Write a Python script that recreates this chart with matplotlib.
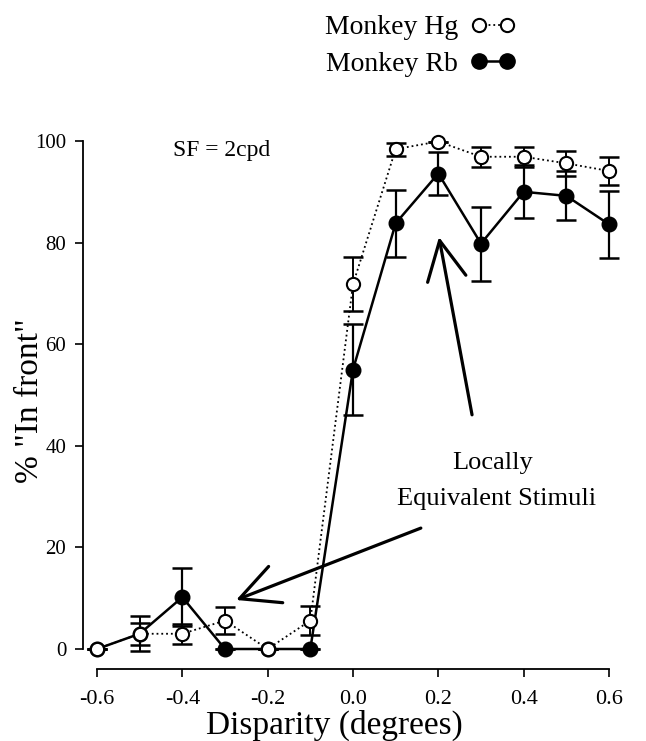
import matplotlib
matplotlib.use("Agg")
import matplotlib.pyplot as plt
from matplotlib.lines import Line2D

plt.rcParams['font.family'] = ['Liberation Serif', 'DejaVu Serif']

disparity = [-0.6, -0.5, -0.4, -0.3, -0.2, -0.1, 0.0, 0.1, 0.2, 0.3, 0.4, 0.5, 0.6]
hg_values = [0.0, 3.0, 3.0, 5.6, 0.0, 5.6, 71.8, 98.4, 99.9, 96.9, 96.9, 95.6, 94.1]
hg_err = [0.0, 3.4, 2.0, 2.7, 0.0, 2.8, 5.3, 1.3, 0.0, 2.0, 2.0, 2.4, 2.8]
rb_values = [0.0, 3.0, 10.2, 0.0, 0.0, 0.0, 55.0, 83.8, 93.6, 79.8, 90.0, 89.2, 83.6]
rb_err = [0.0, 2.2, 5.7, 0.0, 0.0, 0.0, 9.0, 6.6, 4.3, 7.3, 5.2, 4.8, 6.6]
x_ticks = [-0.6, -0.4, -0.2, 0.0, 0.2, 0.4, 0.6]
y_ticks = [0, 20, 40, 60, 80, 100]

W, H = 646, 741
fig = plt.figure(figsize=(W / 100, H / 100), dpi=100)
ax = fig.add_axes([83 / W, 1 - 669 / H, 537 / W, 539 / H])

# Monkey Rb (filled, solid)
ax.errorbar(disparity, rb_values, yerr=rb_err, fmt='none', ecolor='black',
            elinewidth=1.6, capsize=7, capthick=1.8, zorder=2)
ax.plot(disparity, rb_values, '-', color='black', lw=1.8, marker='o',
        ms=10.5, mfc='black', mec='black', zorder=3, label='Monkey Rb')
# Monkey Hg (open, dotted)
ax.errorbar(disparity, hg_values, yerr=hg_err, fmt='none', ecolor='black',
            elinewidth=1.4, capsize=7, capthick=1.8, zorder=4)
ax.plot(disparity, hg_values, ':', color='black', lw=1.3, marker='o',
        ms=9.5, mfc='white', mec='black', mew=1.5, zorder=5, label='Monkey Hg')

ax.set_xlim(-0.6 - 14 / 426.7, 0.6 + 11 / 426.7)
ax.set_ylim(-20 / 5.08, 100 + 11 / 5.08)

for s in ['top', 'right']:
    ax.spines[s].set_visible(False)
ax.spines['left'].set_bounds(0, 100)
ax.spines['bottom'].set_bounds(-0.6, 0.6)
for s in ['left', 'bottom']:
    ax.spines[s].set_linewidth(1.3)

ax.set_xticks(x_ticks)
ax.set_xticklabels([f"{v:.1f}" for v in x_ticks])
ax.set_yticks(y_ticks)
ax.tick_params(axis='both', direction='out', length=6, width=1.2)
ax.tick_params(axis='x', labelsize=16, pad=9)
ax.tick_params(axis='y', labelsize=15, pad=6)

ax.set_xlabel('Disparity (degrees)', fontsize=24)
ax.xaxis.label.set_va('baseline')
ax.set_ylabel('% "In front"', fontsize=24)
ax.xaxis.set_label_coords((334 - 83) / 537, (669 - 734) / 539)
ax.yaxis.set_label_coords((45 - 83) / 537, (669 - 401) / 539)

ax.text(-0.309, 98.2, 'SF = 2cpd', fontsize=17, ha='center', va='center')
ax.text(0.328, 36.6, 'Locally', fontsize=19, ha='center', va='center')
ax.text(0.3375, 29.5, 'Equivalent Stimuli', fontsize=19, ha='center', va='center')

arrow_style = dict(arrowstyle='->,head_length=1.4,head_width=0.7', lw=2.3,
                   color='black', mutation_scale=20, shrinkA=0, shrinkB=0)
ax.annotate('', xy=(0.2015, 81.1), xytext=(0.279, 46.1), arrowprops=arrow_style)
ax.annotate('', xy=(-0.274, 9.65), xytext=(0.159, 23.8), arrowprops=arrow_style)

h_hg = Line2D([], [], ls=':', color='black', lw=1.3, marker='o', ms=9.5,
              mfc='white', mec='black', mew=1.5)
h_rb = Line2D([], [], ls='-', color='black', lw=1.8, marker='o', ms=11,
              mfc='black', mec='black')
leg = fig.legend([h_hg, h_rb], ['Monkey Hg', 'Monkey Rb'], loc='upper left',
                 bbox_to_anchor=(325 / W, 1 - 15 / H), frameon=False,
                 markerfirst=False, numpoints=2, handlelength=1.6,
                 handletextpad=0.45, labelspacing=0.4, fontsize=20,
                 borderpad=0, borderaxespad=0)

fig.savefig('out.png', dpi=100)
